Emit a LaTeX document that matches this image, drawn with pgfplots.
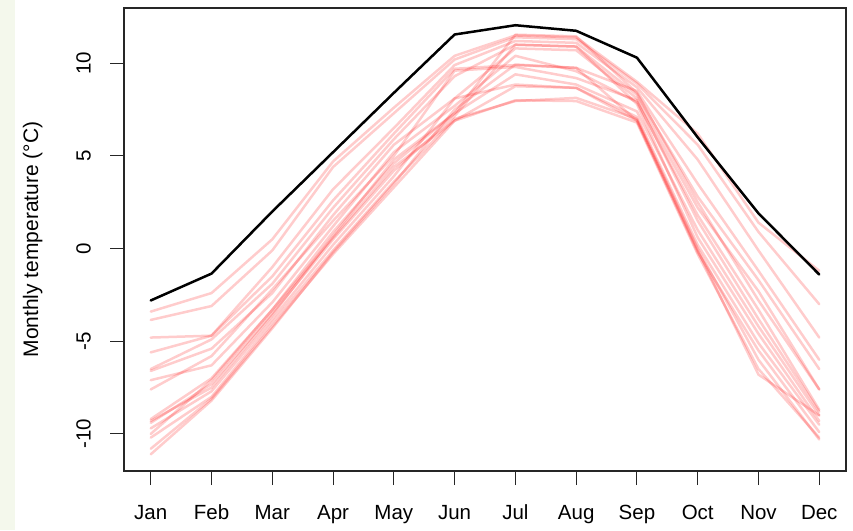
\documentclass[border=0pt]{standalone}
\usepackage{fontspec}
\setmainfont{Liberation Sans}
\usepackage{pgfplots}
\usepackage{pgfplotstable}
\pgfplotsset{compat=1.18}
\definecolor{strip}{HTML}{F4F8EC}

% monthly temperatures: 16 simulated series (A-P) and the observed one (obs)
\pgfplotstableread{
m  A     B     C     D     E     F     G     H     I     J     K     L     M     N     O     P     obs
1  -3.4  -3.85 -4.8  -5.6  -6.5  -6.6  -7.1  -7.6  -9.2  -9.4  -9.7  -10.0 -10.2 -10.8 -11.1 -9.3  -2.8
2  -2.4  -3.1  -4.7  -4.7  -4.9  -5.4  -6.3  -5.8  -7.0  -7.3  -7.7  -7.1  -8.0  -8.1  -8.2  -7.5  -1.35
3  0.5   -0.1  -1.0  -1.5  -1.9  -2.4  -2.9  -2.2  -3.3  -3.5  -3.8  -3.3  -4.0  -4.2  -4.3  -3.6  2.0
4  4.7   4.4   3.2   2.6   2.2   1.8   1.2   1.5   0.9   0.5   0.2   0.6   -0.1  -0.3  -0.2  0.7   5.2
5  7.6   7.3   6.5   6.2   5.9   5.6   5.2   5.0   4.6   4.2   3.9   4.4   3.6   3.3   3.5   4.8   8.4
6  10.4  10.2  9.9   9.7   9.3   8.1   7.7   9.6   7.3   7.15  8.1   6.9   7.0   6.9   7.5   7.3   11.55
7  11.5  11.4  11.2  9.9   11.0  10.8  10.4  9.8   9.4   11.0  8.85  8.76  7.96  8.0   9.93  11.54 12.05
8  11.4  11.3  11.1  9.75  10.9  10.7  9.57  9.2   8.85  10.9  8.67  8.67  8.13  7.96  9.75  11.45 11.75
9  9.0   8.9   8.7   8.5   8.3   8.1   7.9   8.0   7.4   7.8   7.1   6.9   7.0   6.8   6.9   8.4   10.3
10 6.2   5.6   4.8   3.5   2.8   2.2   1.8   1.5   1.0   0.6   0.2   -0.2  0.0   -0.3  -0.1  2.5   6.0
11 1.4   0.9   -0.1  -1.2  -1.7  -2.3  -3.3  -3.8  -4.2  -4.6  -5.1  -5.5  -6.0  -6.5  -6.8  -2.8  1.9
12 -1.2  -3.0  -4.8  -6.0  -6.5  -7.6  -8.7  -8.8  -9.0  -9.3  -9.5  -9.9  -10.3 -10.2 -9.0  -7.6  -1.4
}\temps

\begin{document}
\begin{tikzpicture}[x=1pt,y=1pt]
\path[use as bounding box] (0,0) rectangle (853,530);
\fill[strip] (0,0) rectangle (15,530);
\begin{axis}[
    at={(124pt,59pt)}, anchor=south west,
    scale only axis, width=722pt, height=463pt,
    xmin=0.56, xmax=12.44, ymin=-12.0, ymax=12.98,
    axis line style={line width=1.1pt, black!85},
    tick pos=left, tick align=outside, major tick length=14pt,
    tick style={line width=1.1pt, black!85},
    xtick={1,...,12},
    xticklabels={Jan,Feb,Mar,Apr,May,Jun,Jul,Aug,Sep,Oct,Nov,Dec},
    ytick={-10,-5,0,5,10},
    yticklabels={-10,-5,0,5,10},
    ticklabel style={font=\fontsize{20.5}{24}\selectfont, inner sep=0pt},
    xticklabel style={anchor=base},
    xticklabel shift=34pt,
    yticklabel style={rotate=90, anchor=south},
    yticklabel shift=19pt,
    ylabel={Monthly temperature (°C)},
    ylabel style={font=\fontsize{21}{25}\selectfont, inner sep=0pt,
        at={(axis description cs:-0.1191,0.5)}, anchor=base},
    no markers,
]
\pgfplotsinvokeforeach{A,B,C,D,E,F,G,H,I,J,K,L,M,N,O,P}{
    \addplot[red, opacity=0.2, line width=2.5pt, line join=round, line cap=round]
        table[x=m, y=#1] {\temps};
}
\addplot[black, line width=2.5pt, line join=round, line cap=round]
    table[x=m, y=obs] {\temps};
\end{axis}
\end{tikzpicture}
\end{document}
